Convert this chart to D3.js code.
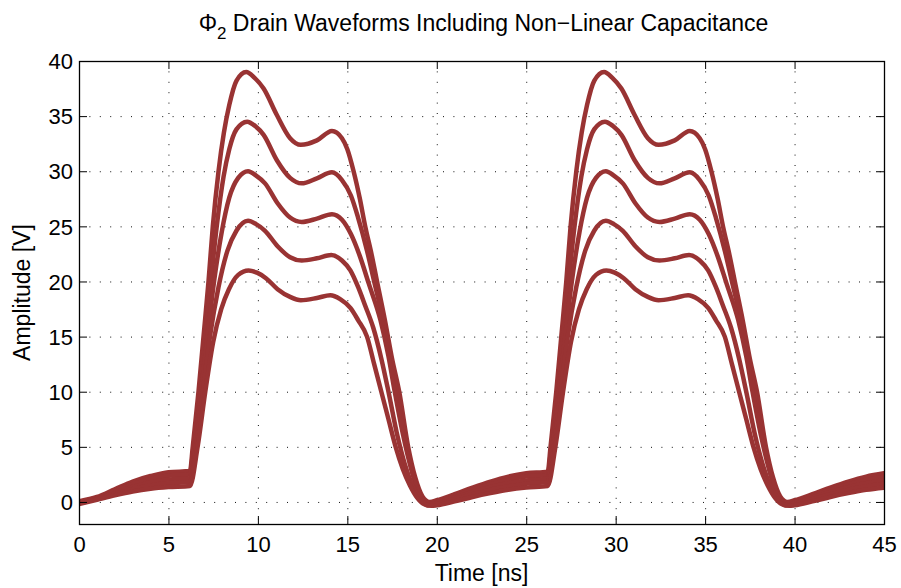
<!DOCTYPE html>
<html>
<head>
<meta charset="utf-8">
<script src="https://cdn.jsdelivr.net/npm/d3@7"></script>
<style>
  body { margin: 0; background: #fff; }
  svg text { font-family: "Liberation Sans", Arial, sans-serif; fill: #000; }
</style>
</head>
<body>
<svg id="chart"></svg>
<script>
// tick values
const xTicks = [0, 5, 10, 15, 20, 25, 30, 35, 40, 45];
const yTicks = [0, 5, 10, 15, 20, 25, 30, 35, 40];

// drain waveforms, [time ns, amplitude V]
const wave39 = [
  [0,0.05],[1,0.45],[2,1.15],[3,1.85],[4,2.35],[5,2.7],[6.2,2.8],
  [6.36,5],[6.68,10],[6.96,15],[7.24,20],[7.48,25],[7.8,30],[8.1,33.5],[8.4,36],[8.8,38.2],[9.35,39.0],
  [9.8,38.5],[10.32,37.5],[11.06,35.1],[11.8,33.0],[12.4,32.4],[13.3,32.8],[14.14,33.65],
  [14.7,33.0],[15.0,32.0],[15.35,30],[15.7,27.5],[16.0,25],[16.35,22.5],[16.66,20],[17.1,16.5],[17.5,13],[17.9,10],[18.4,5],[18.8,2.2],[19.2,0.5],[19.6,0.0],
  [20,0.15],[21,0.7],[22,1.3],[23,1.85],[24,2.3],[25,2.6],[26.2,2.75],
  [26.36,5],[26.68,10],[26.96,15],[27.24,20],[27.48,25],[27.8,30],[28.1,33.5],[28.4,36],[28.8,38.2],[29.35,39.0],
  [29.8,38.5],[30.32,37.5],[31.06,35.1],[31.8,33.0],[32.4,32.4],[33.3,32.8],[34.14,33.65],
  [34.7,33.0],[35.0,32.0],[35.35,30],[35.7,27.5],[36.0,25],[36.35,22.5],[36.66,20],[37.1,16.5],[37.5,13],[37.9,10],[38.4,5],[38.8,2.2],[39.2,0.5],[39.6,0.0],
  [40,0.15],[41,0.7],[42,1.3],[43,1.85],[44,2.3],[45,2.6]
];
const wave34 = [
  [0,0.0],[1,0.38],[2,1.0],[3,1.62],[4,2.07],[5,2.38],[6.2,2.5],
  [6.4,5],[6.74,10],[7.05,15],[7.37,20],[7.7,25],[8.08,29.5],[8.4,32],[8.8,33.8],[9.4,34.5],
  [9.85,34.1],[10.32,33.3],[11.06,31.0],[11.8,29.4],[12.45,28.9],[13.3,29.36],[14.14,29.9],
  [14.7,29.2],[15.2,27.8],[15.6,25.8],[16.1,22.8],[16.5,20.0],[17.0,16.5],[17.4,13.2],[17.75,10],[18.25,5.6],[18.7,2.4],[19.1,0.6],[19.6,-0.1],
  [20,0.05],[21,0.55],[22,1.1],[23,1.6],[24,2.0],[25,2.3],[26.2,2.45],
  [26.4,5],[26.74,10],[27.05,15],[27.37,20],[27.7,25],[28.08,29.5],[28.4,32],[28.8,33.8],[29.4,34.5],
  [29.85,34.1],[30.32,33.3],[31.06,31.0],[31.8,29.4],[32.45,28.9],[33.3,29.36],[34.14,29.9],
  [34.7,29.2],[35.2,27.8],[35.6,25.8],[36.1,22.8],[36.5,20.0],[37.0,16.5],[37.4,13.2],[37.75,10],[38.25,5.6],[38.7,2.4],[39.1,0.6],[39.6,-0.1],
  [40,0.05],[41,0.55],[42,1.1],[43,1.6],[44,2.0],[45,2.3]
];
const wave30 = [
  [0,-0.05],[1,0.3],[2,0.85],[3,1.37],[4,1.78],[5,2.03],[6.2,2.15],
  [6.47,5],[6.83,10],[7.18,15],[7.55,20],[7.98,24.5],[8.4,27.6],[8.9,29.4],[9.45,30],
  [9.9,29.6],[10.4,28.9],[11.1,27.1],[11.8,25.8],[12.45,25.4],[13.3,25.7],[14.14,26.1],
  [14.7,25.6],[15.2,24.3],[15.7,22.3],[16.2,19.8],[16.85,16.5],[17.3,13.2],[17.65,10],[18.1,6.2],[18.6,2.8],[19.0,0.8],[19.5,-0.2],
  [20,-0.05],[21,0.4],[22,0.9],[23,1.35],[24,1.7],[25,1.95],[26.2,2.1],
  [26.47,5],[26.83,10],[27.18,15],[27.55,20],[27.98,24.5],[28.4,27.6],[28.9,29.4],[29.45,30],
  [29.9,29.6],[30.4,28.9],[31.1,27.1],[31.8,25.8],[32.45,25.4],[33.3,25.7],[34.14,26.1],
  [34.7,25.6],[35.2,24.3],[35.7,22.3],[36.2,19.8],[36.85,16.5],[37.3,13.2],[37.65,10],[38.1,6.2],[38.6,2.8],[39.0,0.8],[39.5,-0.2],
  [40,-0.05],[41,0.4],[42,0.9],[43,1.35],[44,1.7],[45,1.95]
];
const wave25 = [
  [0,-0.12],[1,0.25],[2,0.72],[3,1.15],[4,1.5],[5,1.7],[6.2,1.8],
  [6.55,5],[6.93,10],[7.32,15],[7.8,19.5],[8.3,22.8],[8.8,24.6],[9.45,25.5],
  [9.9,25.2],[10.4,24.6],[11.1,23.2],[11.8,22.2],[12.45,21.9],[13.3,22.1],[14.1,22.4],
  [14.7,21.9],[15.17,21.0],[15.6,19.5],[16.0,17.8],[16.45,15.8],[16.9,13],[17.3,10],[17.8,6],[18.2,3.5],[18.7,1.3],[19.1,0.2],[19.5,-0.3],
  [20,-0.15],[21,0.25],[22,0.7],[23,1.1],[24,1.4],[25,1.65],[26.2,1.8],
  [26.55,5],[26.93,10],[27.32,15],[27.8,19.5],[28.3,22.8],[28.8,24.6],[29.45,25.5],
  [29.9,25.2],[30.4,24.6],[31.1,23.2],[31.8,22.2],[32.45,21.9],[33.3,22.1],[34.1,22.4],
  [34.7,21.9],[35.17,21.0],[35.6,19.5],[36.0,17.8],[36.45,15.8],[36.9,13],[37.3,10],[37.8,6],[38.2,3.5],[38.7,1.3],[39.1,0.2],[39.5,-0.3],
  [40,-0.15],[41,0.25],[42,0.7],[43,1.1],[44,1.4],[45,1.65]
];
const wave21 = [
  [0,-0.2],[1,0.2],[2,0.6],[3,0.95],[4,1.2],[5,1.35],[6.2,1.45],
  [6.63,5],[7.06,10],[7.5,14.5],[7.95,17.5],[8.38,19.3],[8.9,20.6],[9.48,21],
  [9.95,20.8],[10.45,20.3],[11.1,19.3],[11.8,18.6],[12.4,18.3],[13.3,18.5],[14.05,18.75],
  [14.6,18.4],[15.17,17.6],[15.6,16.5],[16.1,15],[16.5,12.5],[16.9,10],[17.3,7.5],[17.7,5],[18.1,3],[18.5,1.5],[18.9,0.4],[19.3,-0.2],[19.7,-0.35],
  [20,-0.3],[21,0.05],[22,0.45],[23,0.8],[24,1.1],[25,1.3],[26.2,1.45],
  [26.63,5],[27.06,10],[27.5,14.5],[27.95,17.5],[28.38,19.3],[28.9,20.6],[29.48,21],
  [29.95,20.8],[30.45,20.3],[31.1,19.3],[31.8,18.6],[32.4,18.3],[33.3,18.5],[34.05,18.75],
  [34.6,18.4],[35.17,17.6],[35.6,16.5],[36.1,15],[36.5,12.5],[36.9,10],[37.3,7.5],[37.7,5],[38.1,3],[38.5,1.5],[38.9,0.4],[39.3,-0.2],[39.7,-0.35],
  [40,-0.3],[41,0.05],[42,0.45],[43,0.8],[44,1.1],[45,1.3]
];

class DrainChart {

    constructor( config, data ){
        this.config = {
            parent: config.parent,
            width: config.width || 901,
            height: config.height || 588,
            margin: config.margin || {top:61, right:17, bottom:64, left:79},
            color: config.color || '#993333'
        }
        this.data = data;
        this.init();
    }

    init(){
        let self = this;

        self.svg = d3.select( self.config.parent )
            .attr('width', self.config.width)
            .attr('height', self.config.height);

        self.inner_width = self.config.width - self.config.margin.left - self.config.margin.right;
        self.inner_height = self.config.height - self.config.margin.top - self.config.margin.bottom;

        self.chart = self.svg.append('g')
            .attr('transform', `translate(${self.config.margin.left}, ${self.config.margin.top})`);

        self.xscale = d3.scaleLinear()
            .domain([0, 45])
            .range([0, self.inner_width]);

        self.yscale = d3.scaleLinear()
            .domain([-2, 40])
            .range([self.inner_height, 0]);

        self.chart.append('clipPath')
            .attr('id', 'plotclip')
            .append('rect')
            .attr('width', self.inner_width)
            .attr('height', self.inner_height);
    }

    render(){
        let self = this;
        const w = self.inner_width, h = self.inner_height;

        // dotted grid
        const grid = self.chart.append('g')
            .attr('stroke', '#111')
            .attr('stroke-width', 1)
            .attr('stroke-dasharray', '1,9.4');
        grid.selectAll('.gx')
            .data(xTicks.slice(1, -1))
            .join('line')
            .attr('x1', d => self.xscale(d) + 0.5)
            .attr('x2', d => self.xscale(d) + 0.5)
            .attr('y1', 0)
            .attr('y2', h);
        grid.selectAll('.gy')
            .data(yTicks.slice(0, -1))
            .join('line')
            .attr('class', 'gy')
            .attr('x1', 0)
            .attr('x2', w)
            .attr('y1', d => self.yscale(d) + 0.5)
            .attr('y2', d => self.yscale(d) + 0.5);

        const line = d3.line()
            .x( d => self.xscale(d[0]) )
            .y( d => self.yscale(d[1]) )
            .curve(d3.curveMonotoneX);

        self.chart.append('g')
            .attr('clip-path', 'url(#plotclip)')
            .selectAll('path')
            .data(self.data)
            .join('path')
            .attr('d', d => line(d))
            .attr('fill', 'none')
            .attr('stroke', self.config.color)
            .attr('stroke-width', 4.5)
            .attr('stroke-linejoin', 'round')
            .attr('stroke-linecap', 'round');

        // axes, ticks inside, on all four sides
        const tick = 8;
        const xb = d3.axisBottom(self.xscale).tickValues(xTicks).tickSize(-tick).tickSizeOuter(0).tickPadding(12);
        const xt = d3.axisTop(self.xscale).tickValues(xTicks).tickSize(-tick).tickSizeOuter(0).tickFormat('');
        const yl = d3.axisLeft(self.yscale).tickValues(yTicks).tickSize(-tick).tickSizeOuter(0).tickPadding(6);
        const yr = d3.axisRight(self.yscale).tickValues(yTicks).tickSize(-tick).tickSizeOuter(0).tickFormat('');

        const gx = self.chart.append('g').attr('transform', `translate(0, ${h})`).call(xb);
        self.chart.append('g').call(xt);
        const gy = self.chart.append('g').call(yl);
        self.chart.append('g').attr('transform', `translate(${w}, 0)`).call(yr);

        self.chart.selectAll('.domain').remove();
        self.chart.selectAll('.tick line').attr('stroke', '#000').attr('stroke-width', 1);
        gx.selectAll('text').style('font-size', '22px');
        gy.selectAll('text').style('font-size', '22px').attr('dy', '0.35em');

        self.chart.append('rect')
            .attr('x', 0.5)
            .attr('y', 0.5)
            .attr('width', w)
            .attr('height', h)
            .attr('fill', 'none')
            .attr('stroke', '#000')
            .attr('stroke-width', 1.3);

        // title with subscript
        const title = self.svg.append('text')
            .attr('x', self.config.margin.left + w / 2 + 2)
            .attr('y', 31)
            .attr('text-anchor', 'middle')
            .style('font-size', '23px');
        title.append('tspan').text('\u03A6');
        title.append('tspan').attr('dy', 8).style('font-size', '17px').text('2');
        title.append('tspan').attr('dy', -8).text(' Drain Waveforms Including Non\u2212Linear Capacitance');

        self.svg.append('text')
            .attr('x', self.config.margin.left + w / 2)
            .attr('y', 581)
            .attr('text-anchor', 'middle')
            .style('font-size', '23px')
            .text('Time [ns]');

        self.svg.append('text')
            .attr('transform', `rotate(-90)`)
            .attr('x', -(self.config.margin.top + h / 2))
            .attr('y', 30)
            .attr('text-anchor', 'middle')
            .style('font-size', '23px')
            .text('Amplitude [V]');
    }
}

const chart = new DrainChart({ parent: '#chart' }, [wave39, wave34, wave30, wave25, wave21]);
chart.render();
</script>
</body>
</html>
